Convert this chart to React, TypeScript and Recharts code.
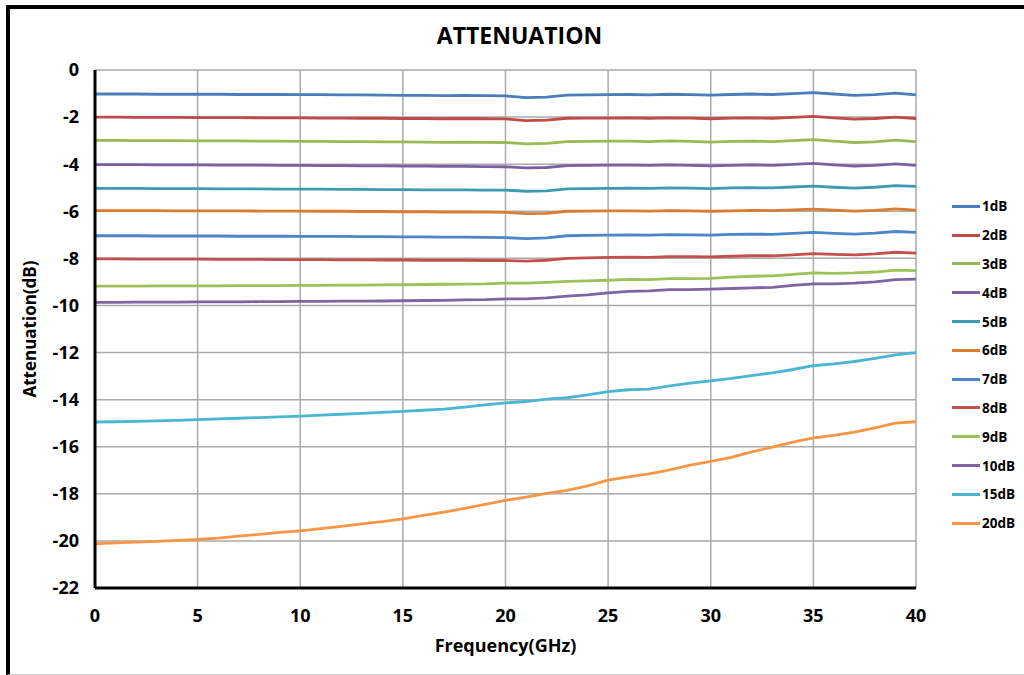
import { LineChart, Line, XAxis, YAxis, CartesianGrid } from 'recharts'

// frequency points (GHz)
const freq = [0, 1, 2, 3, 4, 5, 6, 7, 8, 9, 10, 11, 12, 13, 14, 15, 16, 17, 18, 19, 20,
  21, 22, 23, 24, 25, 26, 27, 28, 29, 30, 31, 32, 33, 34, 35, 36, 37, 38, 39, 40]

const att1 = [-1.02, -1.02, -1.02, -1.03, -1.03, -1.03, -1.03, -1.04, -1.04, -1.04, -1.05, -1.05, -1.06, -1.06, -1.07, -1.08, -1.08, -1.09, -1.08, -1.09, -1.10,
  -1.17, -1.15, -1.07, -1.06, -1.05, -1.04, -1.06, -1.03, -1.05, -1.07, -1.04, -1.02, -1.04, -1.00, -0.96, -1.02, -1.08, -1.05, -0.98, -1.06]
const att2 = [-2.00, -2.00, -2.01, -2.01, -2.01, -2.02, -2.02, -2.02, -2.03, -2.03, -2.03, -2.04, -2.04, -2.05, -2.05, -2.06, -2.06, -2.07, -2.06, -2.07, -2.08,
  -2.15, -2.13, -2.05, -2.04, -2.04, -2.03, -2.05, -2.03, -2.04, -2.07, -2.04, -2.03, -2.05, -2.01, -1.97, -2.03, -2.09, -2.06, -2.00, -2.06]
const att3 = [-2.99, -2.99, -3.00, -3.00, -3.00, -3.01, -3.01, -3.01, -3.02, -3.02, -3.03, -3.03, -3.04, -3.04, -3.05, -3.05, -3.06, -3.07, -3.06, -3.07, -3.08,
  -3.14, -3.12, -3.04, -3.03, -3.02, -3.02, -3.04, -3.01, -3.03, -3.06, -3.03, -3.02, -3.04, -3.00, -2.96, -3.02, -3.08, -3.05, -2.98, -3.04]
const att4 = [-4.02, -4.02, -4.02, -4.03, -4.03, -4.03, -4.04, -4.04, -4.04, -4.05, -4.05, -4.06, -4.06, -4.07, -4.07, -4.08, -4.08, -4.09, -4.09, -4.10, -4.11,
  -4.16, -4.14, -4.06, -4.05, -4.04, -4.04, -4.05, -4.03, -4.05, -4.07, -4.05, -4.03, -4.05, -4.01, -3.97, -4.03, -4.08, -4.05, -3.99, -4.05]
const att5 = [-5.03, -5.03, -5.03, -5.04, -5.04, -5.04, -5.05, -5.05, -5.05, -5.06, -5.06, -5.06, -5.07, -5.07, -5.08, -5.08, -5.09, -5.09, -5.09, -5.10, -5.10,
  -5.15, -5.13, -5.05, -5.04, -5.03, -5.02, -5.03, -5.01, -5.02, -5.04, -5.01, -5.00, -5.01, -4.97, -4.93, -4.98, -5.02, -4.98, -4.91, -4.94]
const att6 = [-5.97, -5.97, -5.97, -5.97, -5.98, -5.98, -5.98, -5.98, -5.99, -5.99, -5.99, -6.00, -6.00, -6.01, -6.01, -6.02, -6.02, -6.03, -6.03, -6.04, -6.05,
  -6.10, -6.09, -6.00, -5.99, -5.98, -5.98, -5.99, -5.97, -5.98, -6.00, -5.98, -5.96, -5.97, -5.94, -5.91, -5.95, -5.99, -5.96, -5.90, -5.95]
const att7 = [-7.04, -7.04, -7.04, -7.05, -7.05, -7.05, -7.05, -7.06, -7.06, -7.06, -7.07, -7.07, -7.07, -7.08, -7.08, -7.09, -7.09, -7.10, -7.10, -7.11, -7.12,
  -7.16, -7.13, -7.04, -7.02, -7.01, -7.00, -7.01, -6.99, -7.00, -7.01, -6.98, -6.97, -6.98, -6.94, -6.90, -6.94, -6.97, -6.93, -6.86, -6.90]
const att8 = [-8.02, -8.02, -8.03, -8.03, -8.03, -8.03, -8.04, -8.04, -8.04, -8.05, -8.05, -8.05, -8.06, -8.06, -8.07, -8.07, -8.08, -8.08, -8.08, -8.09, -8.09,
  -8.12, -8.08, -8.00, -7.98, -7.96, -7.95, -7.96, -7.93, -7.93, -7.94, -7.91, -7.89, -7.89, -7.85, -7.80, -7.83, -7.85, -7.81, -7.74, -7.78]
const att9 = [-9.18, -9.18, -9.18, -9.17, -9.17, -9.17, -9.17, -9.16, -9.16, -9.16, -9.15, -9.15, -9.14, -9.14, -9.13, -9.12, -9.11, -9.10, -9.09, -9.08, -9.05,
  -9.05, -9.02, -8.98, -8.96, -8.93, -8.89, -8.90, -8.86, -8.86, -8.85, -8.80, -8.76, -8.74, -8.68, -8.62, -8.64, -8.62, -8.58, -8.50, -8.52]
const att10 = [-9.87, -9.87, -9.86, -9.86, -9.86, -9.85, -9.85, -9.85, -9.84, -9.84, -9.83, -9.83, -9.82, -9.82, -9.81, -9.80, -9.79, -9.78, -9.76, -9.75, -9.72,
  -9.72, -9.68, -9.60, -9.55, -9.47, -9.40, -9.38, -9.33, -9.33, -9.31, -9.28, -9.25, -9.23, -9.15, -9.08, -9.08, -9.05, -9.00, -8.90, -8.88]
const att15 = [-14.95, -14.94, -14.92, -14.90, -14.88, -14.85, -14.82, -14.79, -14.76, -14.73, -14.70, -14.66, -14.62, -14.58, -14.54, -14.50, -14.45, -14.40, -14.32, -14.22, -14.14,
  -14.08, -13.98, -13.92, -13.80, -13.66, -13.58, -13.55, -13.42, -13.30, -13.20, -13.10, -12.98, -12.86, -12.72, -12.56, -12.48, -12.38, -12.25, -12.10, -12.00]
const att20 = [-20.12, -20.08, -20.05, -20.02, -19.98, -19.94, -19.88, -19.80, -19.72, -19.64, -19.57, -19.48, -19.38, -19.28, -19.18, -19.06, -18.92, -18.78, -18.62, -18.45, -18.28,
  -18.14, -17.98, -17.85, -17.66, -17.42, -17.28, -17.15, -16.98, -16.78, -16.62, -16.45, -16.22, -16.02, -15.80, -15.62, -15.52, -15.38, -15.20, -15.00, -14.94]

const seriesNames = ['1dB', '2dB', '3dB', '4dB', '5dB', '6dB', '7dB', '8dB', '9dB', '10dB', '15dB', '20dB']
const seriesValues = [att1, att2, att3, att4, att5, att6, att7, att8, att9, att10, att15, att20]
const seriesColors = ['#4A7EBB', '#BE4B48', '#98B954', '#7D60A0', '#3E9AB0', '#DB7C32',
  '#4A86C8', '#C4504D', '#9BC35A', '#8064A2', '#4BB6D3', '#F79646']

const xTicks = [0, 5, 10, 15, 20, 25, 30, 35, 40]
const yTicks = [0, -2, -4, -6, -8, -10, -12, -14, -16, -18, -20, -22]

const data = freq.map((f, i) => {
  const row: Record<string, number> = { f }
  seriesNames.forEach((n, k) => { row[n] = seriesValues[k][i] })
  return row
})

const font = '"Open Sans", sans-serif'

export default function App() {
  return (
    <div style={{ position: 'absolute', left: 0, top: 0, width: 1024, height: 675, overflow: 'hidden', background: '#fff', fontFamily: font }}>
      {/* outer chart frame (cropped on the right) */}
      <div style={{
        position: 'absolute', left: 6, top: 5, width: 1040, height: 670, boxSizing: 'border-box',
        borderTop: '4px solid #000', borderLeft: '4px solid #000', borderBottom: '1px solid #ccc',
      }} />
      <div style={{ position: 'absolute', left: 0, top: 24, width: 1039, textAlign: 'center', fontSize: 23, lineHeight: '23px', fontWeight: 700, color: '#000' }}>
        ATTENUATION
      </div>
      <div style={{ position: 'absolute', left: 0, top: 0 }}>
        <LineChart width={1024} height={675} data={data} margin={{ top: 70, right: 108, bottom: 12, left: 25 }}>
          <CartesianGrid stroke="#aaaaaa" strokeWidth={1.5} />
          <XAxis
            dataKey="f" type="number" domain={[0, 40]} ticks={xTicks} height={75}
            tickLine={false} tickMargin={15}
            axisLine={{ stroke: '#000', strokeWidth: 3 }}
            tick={{ fill: '#000', fontSize: 18, fontWeight: 700 }}
            label={{ value: 'Frequency(GHz)', position: 'insideBottom', offset: 11, fill: '#000', fontSize: 18, fontWeight: 700 }}
          />
          <XAxis xAxisId="top" orientation="top" type="number" domain={[0, 40]} height={0}
            tick={false} tickLine={false} axisLine={{ stroke: '#333', strokeWidth: 2.5 }} />
          <YAxis
            type="number" domain={[-22, 0]} ticks={yTicks} width={70}
            tickLine={false} tickMargin={10}
            axisLine={{ stroke: '#000', strokeWidth: 3 }}
            tick={{ fill: '#000', fontSize: 18, fontWeight: 700 }}
            label={{ value: 'Attenuation(dB)', angle: -90, position: 'insideLeft', offset: 5, fill: '#000', fontSize: 17, fontWeight: 700, style: { textAnchor: 'middle' } }}
          />
          <YAxis yAxisId="right" orientation="right" type="number" domain={[-22, 0]} width={0}
            tick={false} tickLine={false} axisLine={{ stroke: '#000', strokeWidth: 3 }} />
          {seriesNames.map((n, k) => (
            <Line key={n} dataKey={n} type="linear" stroke={seriesColors[k]} strokeWidth={2.8}
              dot={false} isAnimationActive={false} />
          ))}
        </LineChart>
      </div>
      <div style={{ position: 'absolute', left: 952, top: 192, display: 'flex', flexDirection: 'column' }}>
        {seriesNames.map((n, k) => (
          <div key={n} style={{ height: 28.8, display: 'flex', alignItems: 'center' }}>
            <div style={{ width: 28, height: 3, background: seriesColors[k] }} />
            <span style={{ marginLeft: 2, fontSize: 13.5, fontWeight: 700, color: '#000' }}>{n}</span>
          </div>
        ))}
      </div>
    </div>
  )
}
